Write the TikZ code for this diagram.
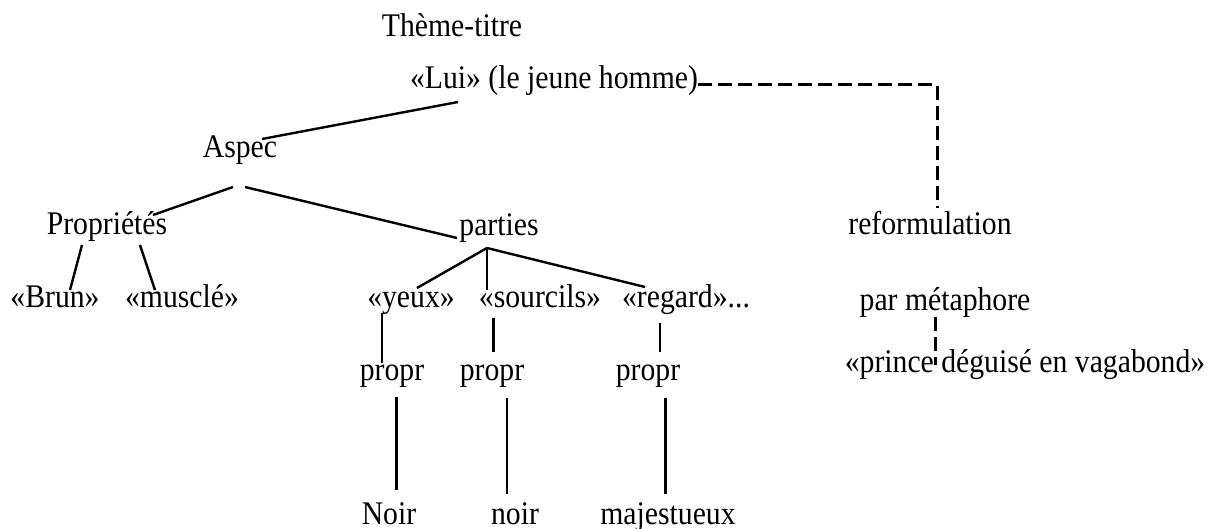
\documentclass[tikz,border=0pt]{standalone}
\usepackage{fontspec}
\setmainfont{Liberation Serif}
\begin{document}
\begin{tikzpicture}[x=1pt,y=1pt,
  lbl/.style={anchor=base,inner sep=0pt,xscale=0.9,font=\fontsize{33}{35}\selectfont},
  link/.style={line width=2.4pt},
  thin/.style={line width=1.5pt},
  heavy/.style={line width=3pt},
  dashlink/.style={line width=3pt,dash pattern=on 14pt off 6pt}]
\useasboundingbox (0,0) rectangle (1223,-529);

% labels, placed on their baselines
\node[lbl] (theme)     at (452,-37)  {Thème-titre};
\node[lbl] (lui)       at (554,-89)  {«Lui» (le jeune homme)};
\node[lbl] (aspec)     at (240,-158) {Aspec};
\node[lbl] (prop)      at (107,-235) {Propriétés};
\node[lbl] (parties)   at (499,-236) {parties};
\node[lbl] (reform)    at (930,-235) {reformulation};
\node[lbl] (brun)      at (55,-307)  {«Brun»};
\node[lbl] (muscle)    at (182,-307) {«musclé»};
\node[lbl] (yeux)      at (411,-308) {«yeux»};
\node[lbl] (sourcils)  at (540,-308) {«sourcils»};
\node[lbl] (regard)    at (686,-308) {«regard»...};
\node[lbl] (metaphore) at (945,-310) {par métaphore};
\node[lbl] (propA)     at (392,-380) {propr};
\node[lbl] (propB)     at (492,-380) {propr};
\node[lbl] (propC)     at (648,-380) {propr};
\node[lbl] (prince)    at (1025,-372) {«prince déguisé en vagabond»};
\node[lbl] (noirA)     at (389,-524) {Noir};
\node[lbl] (noirB)     at (515,-524) {noir};
\node[lbl] (majest)    at (668,-524) {majestueux};

% tree branches
\draw[link] ([shift={(-96,-13)}]lui.base) -- ([shift={(22,19)}]aspec.base);
\draw[link] ([shift={(-7,-29)}]aspec.base) -- ([shift={(46,20)}]prop.base);
\draw[link] ([shift={(5,-29)}]aspec.base) -- ([shift={(-42,-2)}]parties.base);
\draw[link] ([shift={(-25,-10)}]prop.base) -- ([shift={(15,17)}]brun.base);
\draw[link] ([shift={(33,-10)}]prop.base) -- ([shift={(-27,17)}]muscle.base);
\draw[link] ([shift={(-12,-12)}]parties.base) -- ([shift={(6,20)}]yeux.base);
\draw[link] ([shift={(-12,-12)}]parties.base) -- ([shift={(-53,18)}]sourcils.base);
\draw[link] ([shift={(-12,-12)}]parties.base) -- ([shift={(-41,21)}]regard.base);

% properties of the parts
\draw[thin]  ([shift={(-29,-5)}]yeux.base) -- ([shift={(-10,17)}]propA.base);
\draw[heavy] ([shift={(-47,-10)}]sourcils.base) -- ([shift={(1,28)}]propB.base);
\draw[thin]  ([shift={(-26,-15)}]regard.base) -- ([shift={(12,28)}]propC.base);
\draw[heavy] ([shift={(4,-17)}]propA.base) -- ([shift={(7,34)}]noirA.base);
\draw[thin]  ([shift={(15,-18)}]propB.base) -- ([shift={(-8,30)}]noirB.base);
\draw[heavy] ([shift={(17,-18)}]propC.base) -- ([shift={(-3,30)}]majest.base);

% reformulation by metaphor
\draw[dashlink] ([shift={(144,4)}]lui.base) -| ([shift={(7,27)}]reform.base);
\draw[dashlink] ([shift={(-10,-7)}]metaphore.base) -- ([shift={(-90,7)}]prince.base);
\end{tikzpicture}
\end{document}
